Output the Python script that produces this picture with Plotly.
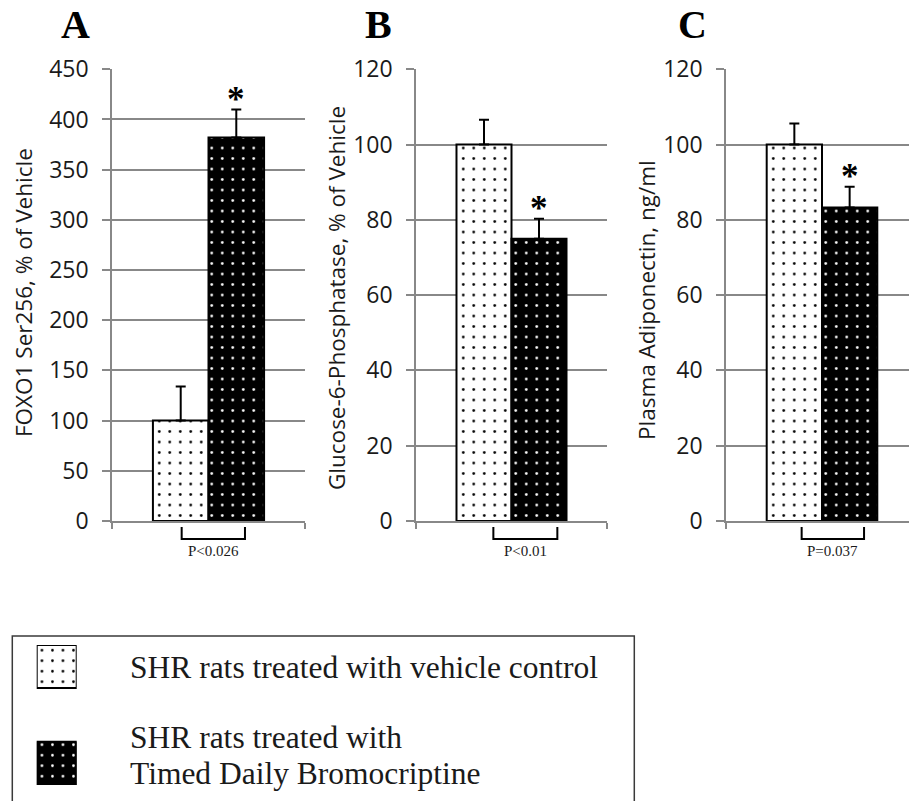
import plotly.graph_objects as go

# ---------------- data ----------------
panel_letters = ["A", "B", "C"]
y_titles = ["FOXO1 Ser256, % of Vehicle",
            "Glucose-6-Phosphatase, % of Vehicle",
            "Plasma Adiponectin, ng/ml"]
group_names = ["SHR rats treated with vehicle control",
               "SHR rats treated with<br>Timed Daily Bromocriptine"]
vehicle_means = [100, 100, 100]
vehicle_err = [34, 6.6, 5.6]
drug_means = [382, 75, 83.3]
drug_err = [28, 5.3, 5.5]
y_max = [450, 120, 120]
y_dtick = [50, 20, 20]
p_labels = ["P<0.026", "P<0.01", "P=0.037"]

# ---------------- layout geometry (pixels) ----------------
W, H = 909, 801
plot_left = [112, 416, 726]
plot_right = [305, 607, 909]
cat_px = [193, 191, 192]          # pixel width of one category
plot_top, plot_bottom = 69.3, 521
bar_w = 0.288
bracket_span = [(-0.139, 0.189), (-0.095, 0.240), (-0.106, 0.219)]
letter_x = [75, 378, 692]
ytitle_pos = [(23, 293), (336, 298), (646, 300)]

GRID = "#888888"
TXT = "#1a1a1a"


def fx(p):
    return p / W


def fy(p):
    return 1 - p / H


def pattern(fg, bg):
    return dict(shape=".", fgcolor=fg, bgcolor=bg, size=10.5, solidity=0.05,
                fillmode="replace")


fig = go.Figure()
layout = dict(width=W, height=H, margin=dict(l=0, r=0, t=0, b=0),
              paper_bgcolor="white", plot_bgcolor="white", showlegend=False,
              barmode="overlay")

shapes = []
annotations = []

for i in range(3):
    ax = "" if i == 0 else str(i + 1)
    xref, yref = "x" + ax, "y" + ax
    fig.add_trace(go.Bar(
        x=[0], y=[vehicle_means[i]], width=[bar_w], offset=[-bar_w],
        xaxis=xref, yaxis=yref,
        marker=dict(color="white", line=dict(color="black", width=2),
                    pattern=pattern("black", "white")),
        error_y=dict(type="data", array=[vehicle_err[i]], arrayminus=[0],
                     symmetric=False, color="black", thickness=2, width=5),
    ))
    fig.add_trace(go.Bar(
        x=[0], y=[drug_means[i]], width=[bar_w], offset=[0],
        xaxis=xref, yaxis=yref,
        marker=dict(color="black", line=dict(color="black", width=2),
                    pattern=pattern("white", "black")),
        error_y=dict(type="data", array=[drug_err[i]], arrayminus=[0],
                     symmetric=False, color="black", thickness=2, width=5),
    ))
    rng_right = -0.5 + (plot_right[i] - plot_left[i]) / cat_px[i]
    layout["xaxis" + ax] = dict(
        domain=[fx(plot_left[i]), fx(plot_right[i])],
        range=[-0.5, rng_right], anchor=yref,
        showgrid=False, zeroline=False, showline=True, linecolor=GRID,
        linewidth=1.5, ticks="outside", ticklen=6, tickcolor=GRID,
        tickwidth=1.5, tickvals=[-0.5, 0.5], showticklabels=False,
        fixedrange=True, automargin=False,
    )
    layout["yaxis" + ax] = dict(
        domain=[fy(plot_bottom), fy(plot_top)],
        range=[0, y_max[i]], dtick=y_dtick[i], tick0=0, anchor=xref,
        showgrid=True, gridcolor=GRID, gridwidth=1.5, zeroline=False,
        showline=True, linecolor=GRID, linewidth=1.5,
        ticks="outside", ticklen=8, tickcolor=GRID, tickwidth=1.5,
        tickfont=dict(family="Open Sans", size=23, color=TXT),
        ticklabelstandoff=9, fixedrange=True, automargin=False,
    )
    # asterisk over the bromocriptine bar
    annotations.append(dict(
        x=bar_w / 2, y=drug_means[i] + drug_err[i], xref=xref, yref=yref,
        text="*", showarrow=False, xanchor="center", yanchor="middle",
        yshift=10, font=dict(family="Liberation Serif", size=35, color="black",
                             weight="bold")))
    # significance bracket
    xl, xr = bracket_span[i]
    shapes.append(dict(
        type="path", xref=xref, yref="paper",
        path=f"M {xl},{fy(527)} L {xl},{fy(539)} L {xr},{fy(539)} L {xr},{fy(527)}",
        line=dict(color="black", width=2)))
    annotations.append(dict(
        x=(xl + xr) / 2, y=fy(551), xref=xref, yref="paper", text=p_labels[i],
        showarrow=False, xanchor="center", yanchor="middle",
        font=dict(family="Liberation Serif", size=15, color=TXT)))
    # panel letter
    annotations.append(dict(
        x=fx(letter_x[i]), y=fy(25), xref="paper", yref="paper",
        text=panel_letters[i], showarrow=False, xanchor="center",
        yanchor="middle",
        font=dict(family="Liberation Serif", size=40, color="black",
                  weight="bold")))
    # y axis title
    tx, ty = ytitle_pos[i]
    annotations.append(dict(
        x=fx(tx), y=fy(ty), xref="paper", yref="paper", text=y_titles[i],
        textangle=-90, showarrow=False, xanchor="center", yanchor="middle",
        font=dict(family="Open Sans", size=22.5, color=TXT)))

# ---------------- legend ----------------
sw_left, sw_right = 36.7, 76.7
sw_top, sw_bottom = 645, 785
fig.add_trace(go.Bar(
    x=[0], y=[43], base=[97], width=[1], xaxis="x4", yaxis="y4",
    marker=dict(color="white", line=dict(color="black", width=2),
                pattern=pattern("black", "white"))))
fig.add_trace(go.Bar(
    x=[0], y=[43.3], base=[0], width=[1], xaxis="x4", yaxis="y4",
    marker=dict(color="black", line=dict(color="black", width=2),
                pattern=pattern("white", "black"))))
layout["xaxis4"] = dict(domain=[fx(sw_left), fx(sw_right)], range=[-0.5, 0.5],
                        visible=False, anchor="y4", fixedrange=True)
layout["yaxis4"] = dict(domain=[fy(sw_bottom), fy(sw_top)],
                        range=[0, sw_bottom - sw_top], visible=False,
                        anchor="x4", fixedrange=True)

shapes.append(dict(
    type="path", xref="paper", yref="paper",
    path=f"M {fx(12.3)},{fy(806)} L {fx(12.3)},{fy(636)} L {fx(634.3)},{fy(636)} L {fx(634.3)},{fy(806)}",
    line=dict(color="#3a3a3a", width=1.5)))

legend_font = dict(family="Liberation Serif", size=31.5, color=TXT)
annotations.append(dict(
    x=fx(128.3), y=fy(667), xref="paper", yref="paper", text=group_names[0],
    showarrow=False, xanchor="left", yanchor="middle", font=legend_font))
line1, line2 = group_names[1].split("<br>")
annotations.append(dict(
    x=fx(128.3), y=fy(737), xref="paper", yref="paper", text=line1,
    showarrow=False, xanchor="left", yanchor="middle", font=legend_font))
annotations.append(dict(
    x=fx(128.3), y=fy(773), xref="paper", yref="paper", text=line2,
    showarrow=False, xanchor="left", yanchor="middle", font=legend_font))

layout["shapes"] = shapes
layout["annotations"] = annotations
fig.update_layout(**layout)
fig.write_html("out.html")
